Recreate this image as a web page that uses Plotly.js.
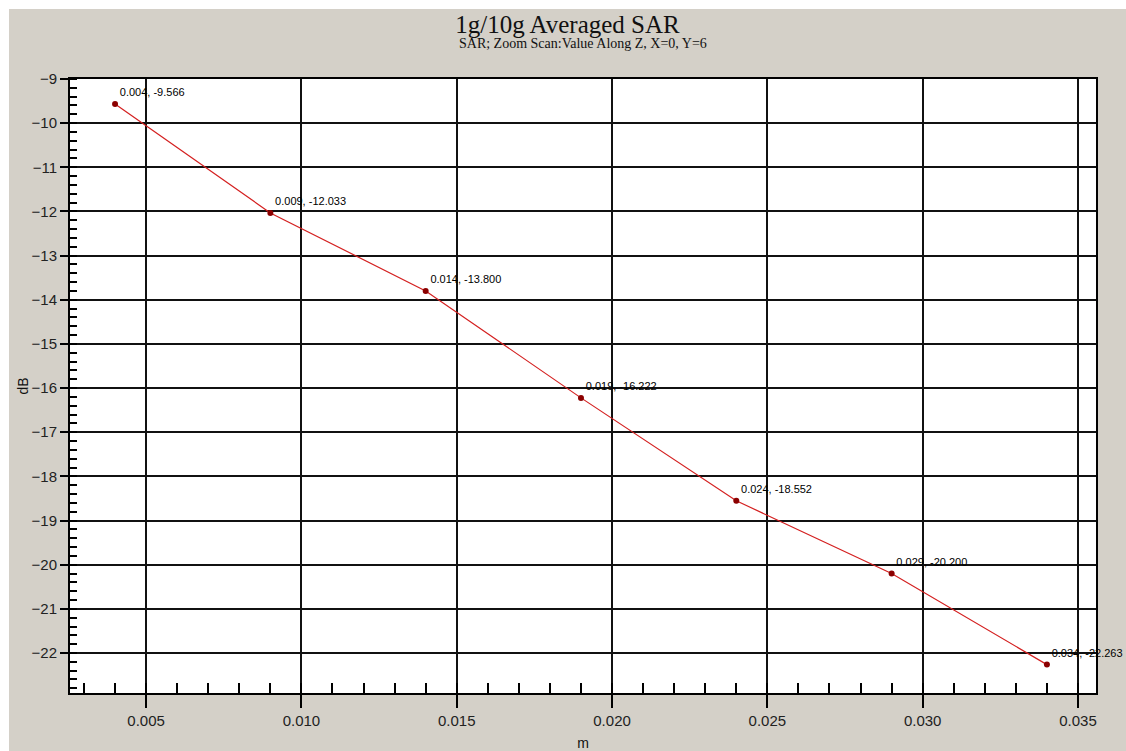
<!DOCTYPE html>
<html>
<head>
<meta charset="utf-8">
<script src="https://cdn.plot.ly/plotly-3.0.1.min.js"></script>
<style>
html,body{margin:0;padding:0;background:#ffffff;}
#chart{position:absolute;left:9px;top:9px;width:1117px;height:742px;}
</style>
</head>
<body>
<div id="chart"></div>
<script>
var xValues = [0.004, 0.009, 0.014, 0.019, 0.024, 0.029, 0.034];
var yValues = [-9.566, -12.033, -13.800, -16.222, -18.552, -20.200, -22.263];
var pointLabels = ["0.004, -9.566", "0.009, -12.033", "0.014, -13.800", "0.019, -16.222", "0.024, -18.552", "0.029, -20.200", "0.034, -22.263"];
var titleText = "1g/10g Averaged SAR";
var subtitleText = "SAR; Zoom Scan:Value Along Z, X=0, Y=6";
var xTitle = "m";
var yTitle = "dB";

var trace = {
  x: xValues,
  y: yValues,
  type: 'scatter',
  mode: 'lines+markers+text',
  text: pointLabels,
  textposition: 'top right',
  textfont: {family: 'Liberation Sans, Arial, sans-serif', size: 11, color: '#000000'},
  line: {color: '#d42020', width: 1.2},
  marker: {color: '#8b0000', size: 6},
  cliponaxis: false,
  hoverinfo: 'x+y'
};

var axisCommon = {
  showline: true,
  mirror: true,
  linecolor: '#000000',
  linewidth: 2,
  showgrid: true,
  gridcolor: '#111111',
  gridwidth: 1.5,
  zeroline: false,
  ticks: 'outside',
  tickcolor: '#000000',
  tickwidth: 1.5,
  tickfont: {family: 'Liberation Sans, Arial, sans-serif', size: 15, color: '#222222'}
};

var layout = {
  width: 1117,
  height: 742,
  paper_bgcolor: '#d4d0c8',
  plot_bgcolor: '#ffffff',
  margin: {l: 61, r: 30, t: 70, b: 58},
  showlegend: false,
  title: {
    text: titleText,
    font: {family: 'Liberation Serif, Times New Roman, serif', size: 25, color: '#111111'},
    x: 0.5, xanchor: 'center',
    y: 1 - 15/742, yref: 'container', yanchor: 'middle'
  },
  annotations: [{
    text: subtitleText,
    xref: 'paper', yref: 'paper',
    x: 0.5, y: 1, xanchor: 'center', yanchor: 'middle',
    yshift: 36,
    showarrow: false,
    font: {family: 'Liberation Serif, Times New Roman, serif', size: 14, color: '#111111'}
  }],
  xaxis: Object.assign({}, axisCommon, {
    range: [0.00255, 0.03558],
    dtick: 0.005,
    tick0: 0,
    tickformat: '.3f',
    ticklen: 13,
    minor: {dtick: 0.001, ticks: 'inside', ticklen: 10, tickcolor: '#000000', tickwidth: 1.5, showgrid: false},
    title: {text: xTitle, font: {family: 'Liberation Sans, Arial, sans-serif', size: 14, color: '#111111'}, standoff: 10}
  }),
  yaxis: Object.assign({}, axisCommon, {
    range: [-22.906, -9],
    dtick: 1,
    tick0: 0,
    ticklen: 8,
    minor: {dtick: 0.2, ticks: 'inside', ticklen: 7, tickcolor: '#000000', tickwidth: 1.5, showgrid: false},
    title: {text: yTitle, font: {family: 'Liberation Sans, Arial, sans-serif', size: 14, color: '#111111'}, standoff: 0}
  })
};

Plotly.newPlot('chart', [trace], layout, {displayModeBar: false, responsive: false});
</script>
</body>
</html>
